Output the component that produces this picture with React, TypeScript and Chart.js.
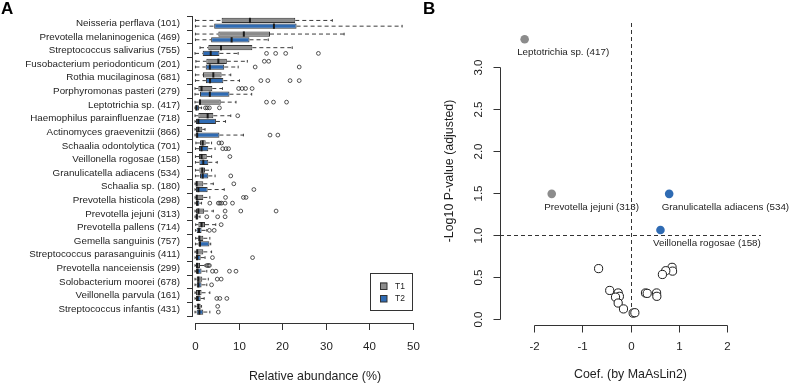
import { useEffect, useRef } from "react";
import { Chart, registerables } from "chart.js";

Chart.register(...registerables);

const FONT = "'Liberation Sans', Arial, Helvetica, sans-serif";
const GREY = "#8c8c8c";
const BLUE = "#2f6bb3";
const INK = "#1e1e1e";
const LINE = "#333333";

// ---- Panel A: relative abundance per taxon at T1 and T2 ----
const taxa = [
  "Neisseria perflava (101)",
  "Prevotella melaninogenica (469)",
  "Streptococcus salivarius (755)",
  "Fusobacterium periodonticum (201)",
  "Rothia mucilaginosa (681)",
  "Porphyromonas pasteri (279)",
  "Leptotrichia sp. (417)",
  "Haemophilus parainfluenzae (718)",
  "Actinomyces graevenitzii (866)",
  "Schaalia odontolytica (701)",
  "Veillonella rogosae (158)",
  "Granulicatella adiacens (534)",
  "Schaalia sp. (180)",
  "Prevotella histicola (298)",
  "Prevotella jejuni (313)",
  "Prevotella pallens (714)",
  "Gemella sanguinis (757)",
  "Streptococcus parasanguinis (411)",
  "Prevotella nanceiensis (299)",
  "Solobacterium moorei (678)",
  "Veillonella parvula (161)",
  "Streptococcus infantis (431)",
];

// [lower whisker, Q1, median, Q3, upper whisker]
const t1Box = [
  [0.1, 6.1, 12.6, 23.0, 31.5],
  [0.1, 5.35, 11.2, 17.2, 34.2],
  [1.15, 3.05, 5.96, 13.15, 22.3],
  [0.2, 2.6, 5.35, 7.3, 12.0],
  [0.1, 1.83, 4.2, 6.1, 8.2],
  [0, 0.77, 1.5, 3.97, 6.3],
  [0, 0.84, 1.15, 5.9, 9.4],
  [0, 0.77, 2.9, 4.2, 8.2],
  [0, 0.23, 0.77, 1.67, 2.3],
  [0.2, 1.15, 1.76, 2.45, 3.8],
  [0.1, 0.92, 1.5, 2.7, 3.8],
  [0.1, 1.0, 1.67, 2.3, 3.8],
  [0, 0.23, 0.38, 1.9, 4.2],
  [0, 0.15, 0.4, 1.9, 3.4],
  [0, 0.23, 0.77, 2.1, 4.2],
  [0.15, 0.77, 1.5, 2.3, 4.75],
  [0.15, 0.77, 1.0, 1.9, 3.4],
  [0, 0.38, 0.5, 1.9, 3.8],
  [0, 0.23, 0.5, 1.15, 2.3],
  [0, 0.38, 0.77, 1.67, 3.05],
  [0, 0.23, 0.9, 1.5, 3.4],
  [0, 0.38, 0.77, 1.3, 1.5],
];

const t2Box = [
  [0.1, 4.4, 18.1, 23.3, 47.5],
  [0.1, 3.7, 8.4, 12.5, 16.8],
  [0, 1.76, 3.6, 5.6, 9.9],
  [0.1, 2.45, 3.4, 6.7, 9.9],
  [0.1, 2.5, 3.45, 6.5, 10.2],
  [0, 1.15, 3.4, 7.9, 13.0],
  [0, 0.15, 0.3, 0.9, 1.5],
  [0, 0.23, 0.77, 4.8, 7.0],
  [0, 0.15, 0.5, 5.6, 11.1],
  [0.1, 0.92, 1.5, 3.05, 4.6],
  [0.1, 1.0, 1.9, 3.05, 5.1],
  [0.1, 1.15, 1.76, 3.05, 4.6],
  [0, 0.23, 0.77, 2.9, 6.7],
  [0, 0.23, 0.5, 1.0, 1.5],
  [0, 0.15, 0.4, 0.77, 1.15],
  [0.1, 0.38, 0.92, 1.5, 2.7],
  [0.1, 0.77, 1.15, 3.3, 3.6],
  [0, 0.23, 0.5, 1.3, 2.3],
  [0, 0.23, 0.6, 1.5, 2.7],
  [0, 0.38, 0.77, 1.5, 2.7],
  [0, 0.23, 0.6, 1.3, 2.1],
  [0, 0.38, 1.0, 1.9, 3.4],
];

const t1Outliers = [
  [], [], [], [15.9, 16.9], [], [10.0, 10.8, 11.6, 13.1], [16.4, 18.0, 21.0],
  [9.8], [], [5.5, 6.1], [8.0], [], [8.9], [7.0, 11.1, 11.7], [6.9, 10.5, 18.6],
  [6.0], [], [], [2.7, 3.05, 3.3], [5.1, 6.0], [], [5.2],
];

const t2Outliers = [
  [], [], [16.4, 18.5, 20.8, 28.3], [13.8, 23.9], [15.1, 16.7, 21.8, 23.9], [],
  [2.4, 2.8, 3.3, 5.6], [], [17.2, 19.0], [6.35, 7.1, 7.7], [], [8.2], [13.5],
  [3.4, 5.35, 5.7, 6.1, 6.9, 8.6], [2.7, 5.2, 6.9], [3.3, 4.4], [], [4.0, 13.2],
  [4.0, 4.8, 7.9, 9.4], [3.8], [5.0, 5.7, 7.3], [5.35],
];

const abundanceTicks = [0, 10, 20, 30, 40, 50];
const groupNames = ["T1", "T2"];

// ---- Panel B: MaAsLin2 coefficients vs adjusted P ----
const downNames = ["Leptotrichia sp. (417)", "Prevotella jejuni (313)"];
const downCoef = [-2.19, -1.63];
const downLogP = [3.33, 1.49];

const upNames = ["Granulicatella adiacens (534)", "Veillonella rogosae (158)"];
const upCoef = [0.8, 0.62];
const upLogP = [1.49, 1.06];

const nsCoef = [-0.66, 0.86, 0.87, 0.73, 0.66, -0.43, -0.255, -0.23, -0.31, -0.255, -0.145, 0.055, 0.09, 0.31, 0.345, 0.54, 0.545];
const nsLogP = [0.6, 0.615, 0.57, 0.575, 0.53, 0.34, 0.31, 0.27, 0.26, 0.19, 0.12, 0.07, 0.075, 0.31, 0.305, 0.31, 0.27];

const coefTicks = [-2, -1, 0, 1, 2];
const pTicks = [0, 0.5, 1, 1.5, 2, 2.5, 3];
const pThreshold = 1;

function seg(ctx: CanvasRenderingContext2D, x1: number, y1: number, x2: number, y2: number) {
  ctx.beginPath();
  ctx.moveTo(x1, y1);
  ctx.lineTo(x2, y2);
  ctx.stroke();
}

// Whiskers, staples, medians and outlying points around each floating bar
const boxPlugin = {
  id: "boxDetails",
  afterDatasetsDraw(chart: any) {
    const ctx: CanvasRenderingContext2D = chart.ctx;
    const xs = chart.scales.x;
    const sets = [
      [t1Box, t1Outliers],
      [t2Box, t2Outliers],
    ] as const;
    sets.forEach(([stats, outs], d) => {
      const meta = chart.getDatasetMeta(d);
      meta.data.forEach((bar: any, i: number) => {
        const { y, height } = bar.getProps(["y", "height"], true);
        const [lo, q1, med, q3, hi] = stats[i];
        ctx.save();
        ctx.strokeStyle = "#3c3c3c";
        ctx.lineWidth = 1;
        ctx.setLineDash([4, 3]);
        if (hi > q3) seg(ctx, xs.getPixelForValue(q3), y, xs.getPixelForValue(hi), y);
        if (q1 > lo) seg(ctx, xs.getPixelForValue(lo), y, xs.getPixelForValue(q1), y);
        ctx.setLineDash([]);
        const sh = height / 4;
        seg(ctx, xs.getPixelForValue(hi), y - sh, xs.getPixelForValue(hi), y + sh);
        seg(ctx, xs.getPixelForValue(lo), y - sh, xs.getPixelForValue(lo), y + sh);
        ctx.strokeStyle = "#1a1a1a";
        ctx.lineWidth = 2;
        const mx = xs.getPixelForValue(med);
        seg(ctx, mx, y - height / 2, mx, y + height / 2);
        ctx.lineWidth = 0.8;
        ctx.strokeStyle = "#2a2a2a";
        (outs[i] as number[]).forEach((v) => {
          ctx.beginPath();
          ctx.arc(xs.getPixelForValue(v), y, 1.9, 0, Math.PI * 2);
          ctx.stroke();
        });
        ctx.restore();
      });
    });
  },
};

// R-style bottom axis, legend and panel letter for panel A
const abundanceAxisPlugin = {
  id: "abundanceAxis",
  afterDraw(chart: any) {
    const ctx: CanvasRenderingContext2D = chart.ctx;
    const xs = chart.scales.x;
    const area = chart.chartArea;
    const axisY = area.bottom + 7;
    ctx.save();
    ctx.strokeStyle = LINE;
    ctx.lineWidth = 1;
    const x0 = xs.getPixelForValue(abundanceTicks[0]);
    const x1 = xs.getPixelForValue(abundanceTicks[abundanceTicks.length - 1]);
    seg(ctx, Math.round(x0) + 0.5, Math.round(axisY) + 0.5, Math.round(x1) + 0.5, Math.round(axisY) + 0.5);
    ctx.fillStyle = INK;
    ctx.font = `11.5px ${FONT}`;
    ctx.textAlign = "center";
    ctx.textBaseline = "middle";
    abundanceTicks.forEach((t) => {
      const px = Math.round(xs.getPixelForValue(t)) + 0.5;
      seg(ctx, px, axisY, px, axisY + 7);
      ctx.fillText(String(t), px, area.bottom + 31);
    });
    ctx.font = `12.4px ${FONT}`;
    ctx.fillText("Relative abundance (%)", (x0 + x1) / 2 + 11, area.bottom + 61);

    // legend
    const lx = area.right - 43;
    const ly = area.bottom - 43;
    ctx.strokeRect(Math.round(lx) + 0.5, Math.round(ly) + 0.5, 42, 37);
    ctx.font = `8.5px ${FONT}`;
    ctx.textAlign = "left";
    chart.data.datasets.forEach((ds: any, i: number) => {
      const cy = ly + 13 + i * 12.5;
      ctx.fillStyle = ds.backgroundColor;
      ctx.fillRect(lx + 10, cy - 3.5, 7, 7);
      ctx.strokeStyle = LINE;
      ctx.strokeRect(lx + 10.5, cy - 3, 6.5, 6.5);
      ctx.fillStyle = INK;
      ctx.fillText(ds.label, lx + 25, cy + 0.5);
    });

    ctx.font = `bold 17px ${FONT}`;
    ctx.fillStyle = "#000";
    ctx.textBaseline = "alphabetic";
    ctx.fillText("A", 1, 14);
    ctx.restore();
  },
};

// Threshold lines drawn under the points
const thresholdPlugin = {
  id: "thresholds",
  beforeDatasetsDraw(chart: any) {
    const ctx: CanvasRenderingContext2D = chart.ctx;
    const { x: xs, y: ys } = chart.scales;
    const area = chart.chartArea;
    ctx.save();
    ctx.strokeStyle = LINE;
    ctx.lineWidth = 1;
    ctx.setLineDash([4, 3]);
    const vx = Math.round(xs.getPixelForValue(0)) + 0.5;
    seg(ctx, vx, area.top, vx, area.bottom);
    const hy = Math.round(ys.getPixelForValue(pThreshold)) + 0.5;
    seg(ctx, area.left, hy, area.right, hy);
    ctx.restore();
  },
};

// R-style axes, point names and panel letter for panel B
const volcanoAxisPlugin = {
  id: "volcanoAxis",
  afterDraw(chart: any) {
    const ctx: CanvasRenderingContext2D = chart.ctx;
    const { x: xs, y: ys } = chart.scales;
    const area = chart.chartArea;
    ctx.save();
    ctx.strokeStyle = LINE;
    ctx.fillStyle = INK;
    ctx.lineWidth = 1;

    // y axis
    const ax = Math.round(area.left) + 0.5;
    const yTop = ys.getPixelForValue(pTicks[pTicks.length - 1]);
    const yBot = ys.getPixelForValue(pTicks[0]);
    seg(ctx, ax, Math.round(yTop) + 0.5, ax, Math.round(yBot) + 0.5);
    ctx.font = `11.5px ${FONT}`;
    ctx.textAlign = "center";
    ctx.textBaseline = "middle";
    pTicks.forEach((t) => {
      const py = Math.round(ys.getPixelForValue(t)) + 0.5;
      seg(ctx, ax - 7, py, ax, py);
      ctx.save();
      ctx.translate(area.left - 21, py);
      ctx.rotate(-Math.PI / 2);
      ctx.fillText(t.toFixed(1), 0, 0);
      ctx.restore();
    });
    ctx.save();
    ctx.font = `12.4px ${FONT}`;
    ctx.translate(area.left - 50, (area.top + area.bottom) / 2 + 3);
    ctx.rotate(-Math.PI / 2);
    ctx.fillText("-Log10 P-value (adjusted)", 0, 0);
    ctx.restore();

    // x axis
    const ay = Math.round(area.bottom + 12) + 0.5;
    const xL = xs.getPixelForValue(coefTicks[0]);
    const xR = xs.getPixelForValue(coefTicks[coefTicks.length - 1]);
    seg(ctx, Math.round(xL) + 0.5, ay, Math.round(xR) + 0.5, ay);
    coefTicks.forEach((t) => {
      const px = Math.round(xs.getPixelForValue(t)) + 0.5;
      seg(ctx, px, ay, px, ay + 7);
      ctx.fillText(String(t), px, area.bottom + 34);
    });
    ctx.font = `12.4px ${FONT}`;
    ctx.fillText("Coef. (by MaAsLin2)", (area.left + area.right) / 2, area.bottom + 62);

    // names of the significant taxa
    ctx.font = `9.8px ${FONT}`;
    ctx.textAlign = "left";
    const named: [string[], number[], number[]][] = [
      [downNames, downCoef, downLogP],
      [upNames, upCoef, upLogP],
    ];
    named.forEach(([names, cx, cy]) => {
      names.forEach((n, i) => {
        ctx.fillText(n, xs.getPixelForValue(cx[i]) - 7.5, ys.getPixelForValue(cy[i]) + 13);
      });
    });

    ctx.font = `bold 17px ${FONT}`;
    ctx.fillStyle = "#000";
    ctx.textBaseline = "alphabetic";
    ctx.fillText("B", 3, 14);
    ctx.restore();
  },
};

export default function App() {
  const leftRef = useRef<HTMLCanvasElement>(null);
  const rightRef = useRef<HTMLCanvasElement>(null);

  useEffect(() => {
    const boxChart = new Chart(leftRef.current as HTMLCanvasElement, {
      type: "bar",
      data: {
        labels: taxa,
        datasets: [
          {
            label: groupNames[0],
            data: t1Box.map((s) => [s[1], s[3]]),
            backgroundColor: GREY,
            borderColor: LINE,
            borderWidth: 1,
            borderSkipped: false,
            categoryPercentage: 0.84,
            barPercentage: 0.92,
          },
          {
            label: groupNames[1],
            data: t2Box.map((s) => [s[1], s[3]]),
            backgroundColor: BLUE,
            borderColor: LINE,
            borderWidth: 1,
            borderSkipped: false,
            categoryPercentage: 0.84,
            barPercentage: 0.92,
          },
        ],
      } as any,
      options: {
        indexAxis: "y",
        responsive: false,
        animation: false,
        layout: { padding: { left: 0, top: 16.5, right: 17, bottom: 68 } },
        plugins: { legend: { display: false }, tooltip: { enabled: false } },
        scales: {
          x: { type: "linear", display: false, min: -0.69, max: 50 },
          y: {
            type: "category",
            afterFit: (s: any) => {
              s.width = 192;
            },
            grid: { display: true, drawOnChartArea: false, drawTicks: true, tickLength: 5, color: LINE },
            border: { display: true, color: LINE, width: 1 },
            ticks: { padding: 7, color: INK, font: { family: FONT, size: 9.8 }, autoSkip: false },
          },
        },
      } as any,
      plugins: [boxPlugin, abundanceAxisPlugin],
    });

    const volcano = new Chart(rightRef.current as HTMLCanvasElement, {
      type: "scatter",
      data: {
        datasets: [
          {
            label: "ns",
            data: nsCoef.map((c, i) => ({ x: c, y: nsLogP[i] })),
            pointRadius: 4.1,
            pointBackgroundColor: "#ffffff",
            pointBorderColor: "#1a1a1a",
            pointBorderWidth: 1,
            clip: false,
          },
          {
            label: groupNames[0],
            data: downCoef.map((c, i) => ({ x: c, y: downLogP[i] })),
            pointRadius: 4.3,
            pointBackgroundColor: GREY,
            pointBorderColor: GREY,
            pointBorderWidth: 0,
            clip: false,
          },
          {
            label: groupNames[1],
            data: upCoef.map((c, i) => ({ x: c, y: upLogP[i] })),
            pointRadius: 4.3,
            pointBackgroundColor: BLUE,
            pointBorderColor: BLUE,
            pointBorderWidth: 0,
            clip: false,
          },
        ],
      } as any,
      options: {
        responsive: false,
        animation: false,
        layout: { padding: { left: 80, right: 28, top: 23, bottom: 71 } },
        plugins: { legend: { display: false }, tooltip: { enabled: false } },
        scales: {
          x: { type: "linear", display: false, min: -2.7, max: 2.7 },
          y: { type: "linear", display: false, min: 0.0714, max: 3.524 },
        },
      } as any,
      plugins: [thresholdPlugin, volcanoAxisPlugin],
    });

    return () => {
      boxChart.destroy();
      volcano.destroy();
    };
  }, []);

  return (
    <div style={{ position: "absolute", left: 0, top: 0, width: 789, height: 384, background: "#ffffff", overflow: "hidden" }}>
      <canvas ref={leftRef} width={430} height={384} style={{ position: "absolute", left: 0, top: 0 }} />
      <canvas ref={rightRef} width={369} height={384} style={{ position: "absolute", left: 420, top: 0 }} />
    </div>
  );
}
